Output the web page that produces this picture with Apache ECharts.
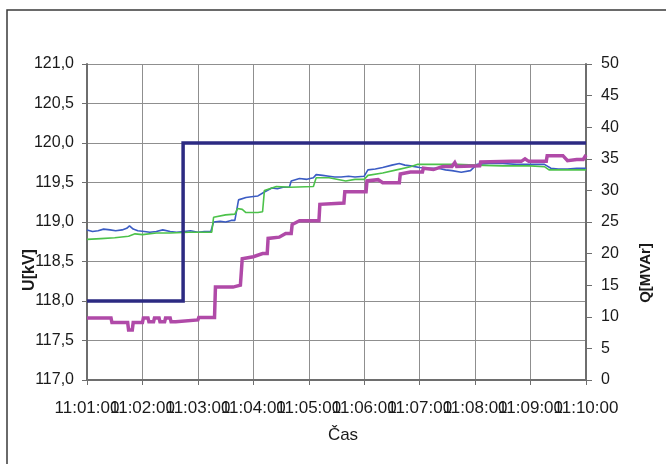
<!DOCTYPE html>
<html>
<head>
<meta charset="utf-8">
<script src="https://cdn.jsdelivr.net/npm/echarts@6/dist/echarts.min.js"></script>
<style>html,body{margin:0;padding:0;background:#fff}#c{width:666px;height:464px}</style>
</head>
<body>
<div id="c"></div>
<script>
// ---- data (time in seconds after 11:01:00) ----
const xTickLabels = ['11:01:00','11:02:00','11:03:00','11:04:00','11:05:00','11:06:00','11:07:00','11:08:00','11:09:00','11:10:00'];
const leftTickLabels = ['117,0','117,5','118,0','118,5','119,0','119,5','120,0','120,5','121,0'];
const rightTickLabels = ['0','5','10','15','20','25','30','35','40','45','50'];

const setT = [0, 104, 104, 540];
const setU = [118.0, 118.0, 120.0, 120.0];

const u1T = [0,6,12,18,25,31,38,43,46,50,55,62,68,75,82,90,97,105,112,120,127,134,137,144,150,156,160,164,172,178,185,192,200,206,212,219,221,230,238,245,248,255,262,268,275,283,290,300,304,312,320,330,338,344,350,360,370,380,388,395,405,415,422,435,450,465,480,495,502,510,520,530,540];
const u1V = [118.90,118.88,118.89,118.91,118.90,118.89,118.90,118.92,118.95,118.91,118.89,118.88,118.87,118.88,118.90,118.88,118.87,118.88,118.89,118.87,118.88,118.88,119.00,119.01,119.00,119.02,119.02,119.28,119.31,119.32,119.33,119.38,119.43,119.42,119.44,119.44,119.52,119.55,119.54,119.56,119.60,119.59,119.58,119.57,119.57,119.58,119.57,119.58,119.66,119.67,119.69,119.72,119.74,119.72,119.71,119.69,119.68,119.68,119.66,119.65,119.63,119.65,119.73,119.74,119.74,119.73,119.73,119.73,119.68,119.67,119.67,119.68,119.68];

const u2T = [0,15,30,45,52,60,75,90,110,135,137,150,160,163,168,172,185,190,192,205,220,245,248,262,280,290,300,304,320,335,350,358,370,400,420,450,480,495,500,540];
const u2V = [118.78,118.79,118.80,118.82,118.85,118.84,118.86,118.86,118.87,118.87,119.06,119.09,119.10,119.17,119.16,119.12,119.12,119.13,119.40,119.45,119.44,119.45,119.56,119.56,119.52,119.54,119.54,119.59,119.62,119.66,119.70,119.73,119.73,119.73,119.72,119.71,119.71,119.70,119.66,119.66];

const qT = [0,26,27,44,45,49,50,60,61,66,67,72,73,78,79,84,85,90,91,96,97,120,121,138,139,158,160,166,168,180,190,195,196,208,215,221,222,230,251,252,278,279,302,303,315,320,338,339,350,363,364,375,385,395,398,400,425,426,460,470,474,478,497,498,515,520,530,537,540];
const qV = [9.8,9.8,9.1,9.1,7.9,7.9,9.1,9.1,9.8,9.8,9.2,9.2,9.8,9.8,9.2,9.2,9.8,9.8,9.2,9.2,9.5,9.5,9.9,9.9,14.7,14.7,15.0,15.0,19.2,19.5,20.0,20.0,22.4,22.6,23.2,23.2,24.6,25.2,25.2,27.8,28.0,29.8,29.8,31.5,31.7,31.2,31.2,32.6,32.9,32.9,33.5,33.3,33.8,33.8,34.4,33.8,33.9,34.5,34.6,34.6,35.0,34.6,34.6,35.5,35.5,34.7,34.9,34.9,35.6];

function pairs(t, v) { return t.map((x, i) => [x, v[i]]); }

const FAM = '"Liberation Sans", Arial, sans-serif';
const chart = echarts.init(document.getElementById('c'), null, {renderer: 'canvas'});
const axisCol = '#6e6e6e';
const gridCol = '#8f8f8f';
const txt = '#1a1a1a';

chart.setOption({
  animation: false,
  backgroundColor: '#fff',
  grid: {left: 87, right: 80, top: 64, bottom: 84, containLabel: false},
  xAxis: [{
    type: 'value', min: 0, max: 540, interval: 60,
    axisLine: {show: true, onZero: false, lineStyle: {color: axisCol, width: 2}},
    axisTick: {show: true, length: 5, lineStyle: {color: axisCol, width: 1}},
    axisLabel: {show: false},
    splitLine: {show: true, lineStyle: {color: gridCol, width: 1}}
  }, {
    // label-only axis carrying the time tick labels (all shown, overlapping as in the original)
    type: 'category', data: xTickLabels, boundaryGap: false, position: 'bottom',
    axisLine: {show: false}, axisTick: {show: false}, splitLine: {show: false},
    axisLabel: {interval: 0, margin: 20, color: txt, fontFamily: FAM, fontSize: 17, hideOverlap: false}
  }],
  yAxis: [{
    type: 'value', min: 117, max: 121, interval: 0.5, position: 'left',
    axisLine: {show: true, lineStyle: {color: axisCol, width: 2}},
    axisTick: {show: true, length: 5, lineStyle: {color: axisCol, width: 1}},
    axisLabel: {margin: 13, color: txt, fontFamily: FAM, fontSize: 16,
      showMinLabel: true, showMaxLabel: true,
      formatter: v => leftTickLabels[Math.round((v - 117) / 0.5)] || ''},
    splitLine: {show: true, lineStyle: {color: gridCol, width: 1}}
  }, {
    type: 'value', min: 0, max: 50, interval: 5, position: 'right',
    axisLine: {show: true, lineStyle: {color: axisCol, width: 2}},
    axisTick: {show: true, length: 6, lineStyle: {color: axisCol, width: 1}},
    axisLabel: {margin: 15, color: txt, fontFamily: FAM, fontSize: 16,
      showMinLabel: true, showMaxLabel: true,
      formatter: v => rightTickLabels[Math.round(v / 5)] || ''},
    splitLine: {show: false}
  }],
  series: [
    {type: 'line', name: 'U1', xAxisIndex: 0, yAxisIndex: 0, data: pairs(u1T, u1V), showSymbol: false,
      lineStyle: {color: '#3b5cc4', width: 1.6}, z: 2},
    {type: 'line', name: 'U2', xAxisIndex: 0, yAxisIndex: 0, data: pairs(u2T, u2V), showSymbol: false,
      lineStyle: {color: '#4cc24a', width: 1.6}, z: 3},
    {type: 'line', name: 'Q', xAxisIndex: 0, yAxisIndex: 1, data: pairs(qT, qV), showSymbol: false,
      lineStyle: {color: '#b04aa8', width: 3.5, join: 'miter'}, z: 4},
    {type: 'line', name: 'Uset', xAxisIndex: 0, yAxisIndex: 0, data: pairs(setT, setU), showSymbol: false,
      lineStyle: {color: '#2c2a82', width: 3.5, join: 'miter'}, z: 5}
  ],
  graphic: [
    {type: 'rect', shape: {x: 7, y: 10, width: 700, height: 500},
      style: {fill: 'none', stroke: '#3a3a3a', lineWidth: 1.5}, silent: true, z: -10},
    {type: 'text', x: 30, y: 270, rotation: Math.PI / 2,
      style: {text: 'U[kV]', fill: txt, font: 'bold 16px ' + FAM, align: 'center', verticalAlign: 'middle'}},
    {type: 'text', x: 646, y: 273, rotation: Math.PI / 2,
      style: {text: 'Q[MVAr]', fill: txt, font: 'bold 15px ' + FAM, align: 'center', verticalAlign: 'middle'}},
    {type: 'text', x: 343, y: 435,
      style: {text: 'Čas', fill: txt, font: '17px ' + FAM, align: 'center', verticalAlign: 'middle'}}
  ]
});
</script>
</body>
</html>
